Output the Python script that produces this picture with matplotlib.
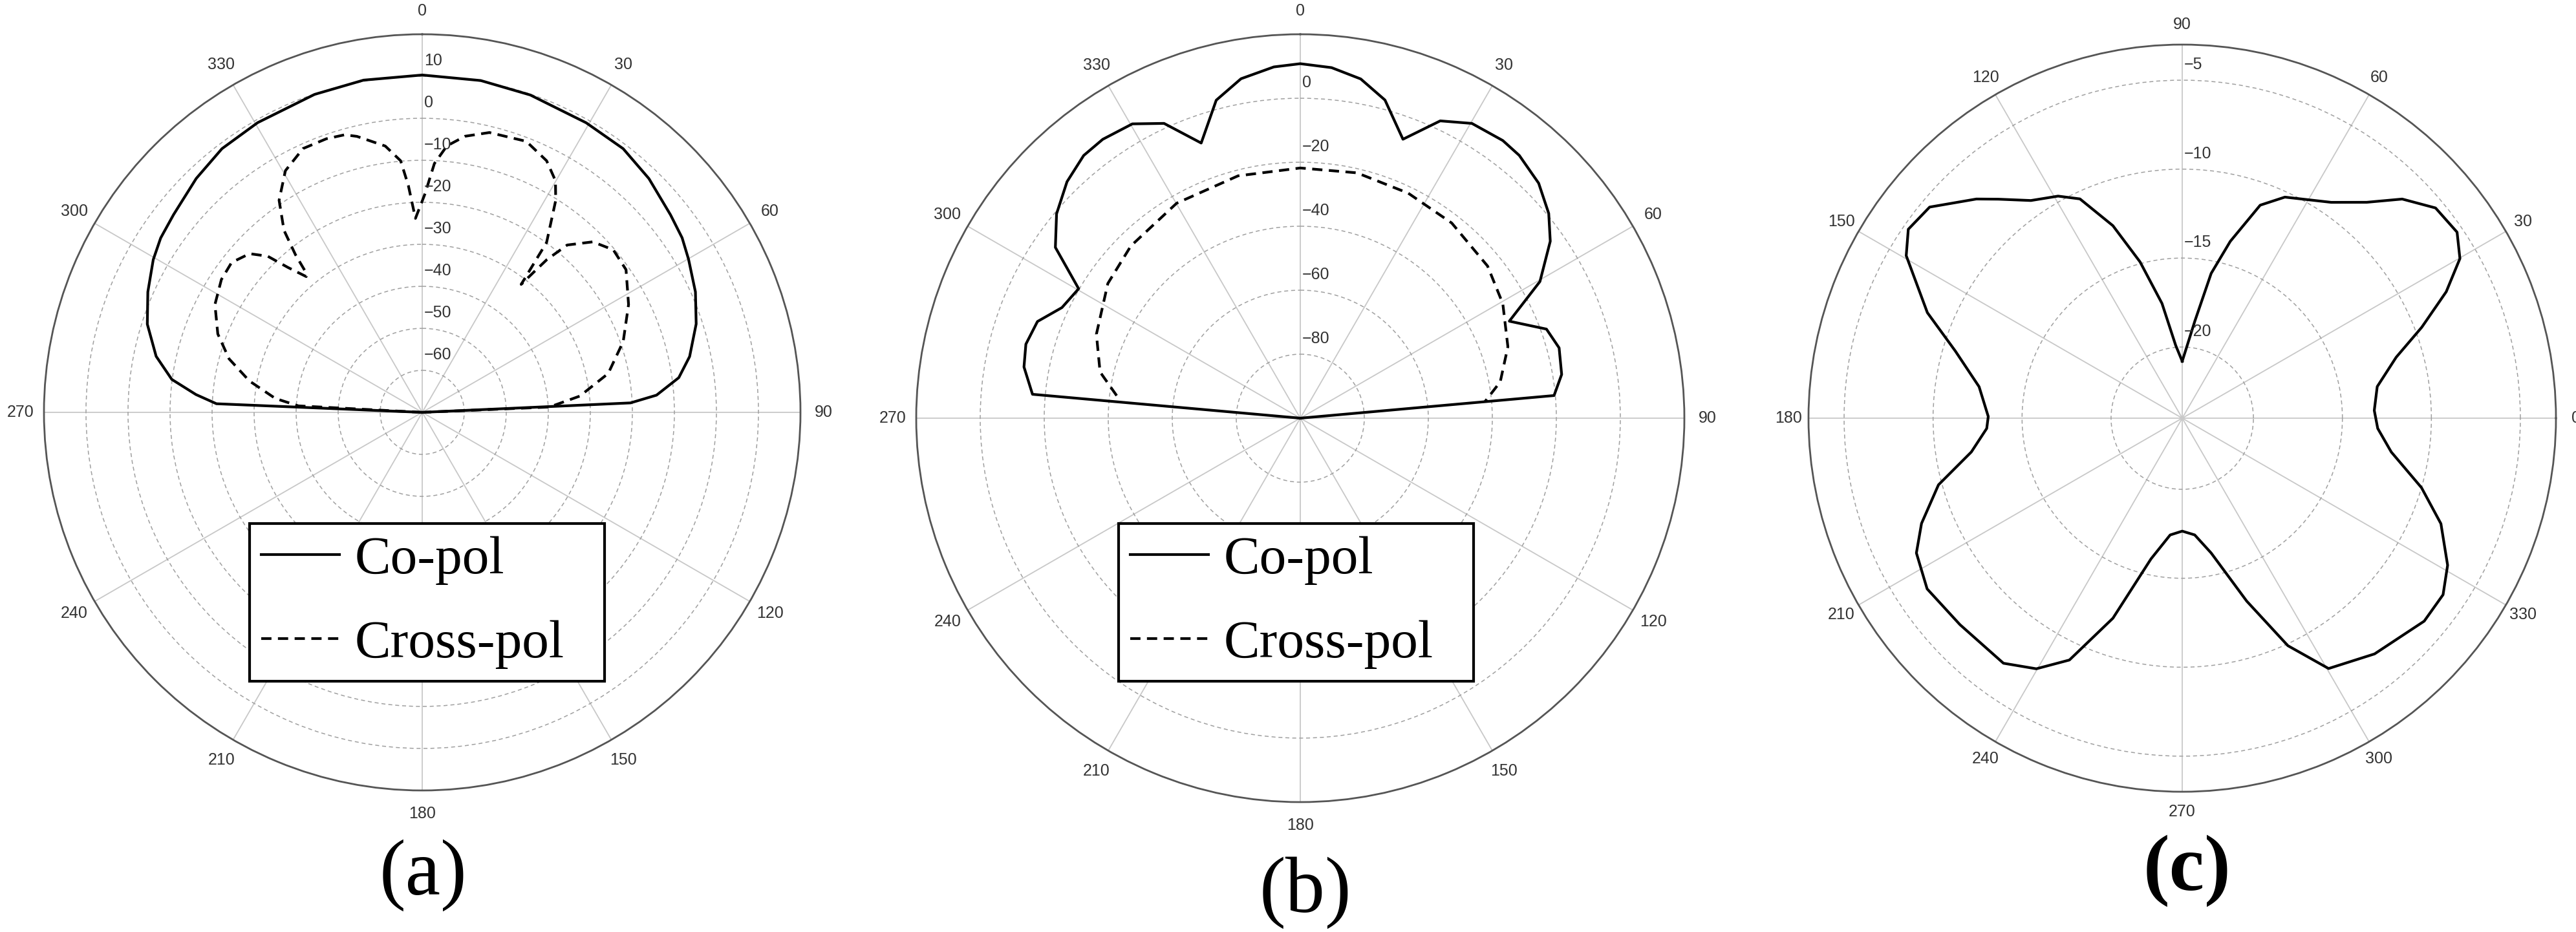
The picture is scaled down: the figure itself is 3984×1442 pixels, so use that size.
import numpy as np
import matplotlib
matplotlib.use("Agg")
import matplotlib.pyplot as plt

W, H = 3984, 1442

# ---- panel (a): co-pol / cross-pol, dB, angle clockwise from top
a_co_ang = [-90, -87.6, -85.5, -82.5, -78.1, -72.2, -66.3, -60.4, -56.3, -51.5, -44, -37.2,
            -29.6, -18.7, -10, 0, 10, 18.8, 29.5, 37.3, 44.1, 51.5, 56.1, 60.1, 66.2, 72.1,
            78.2, 82.3, 85.8, 87.4, 90]
a_co_db = [-70, -21, -16, -9.9, -5.3, -1.3, 1.3, 3.6, 4.8, 5.6, 7.4, 8.8,
           9.3, 9.9, 10.3, 10.3, 10.2, 9.8, 9.2, 8.9, 7.5, 5.5, 4.5, 3.1, 1.05, -1.5,
           -5.0, -8.4, -14.1, -20.4, -70]

a_x_ang = [-90, -87, -84.6, -79.7, -74.5, -69, -62.5, -56.5, -51.8, -47.4, -44.7, -42.8, -40.5,
           -39.7, -38.8, -37.2, -34, -29.5, -24.3, -19.3, -15.6, -13.3, -7.9, -4.9, -3.5, -2,
           0.8, 1.7, 2.8, 5.3, 8.8, 13.5, 21, 26.3, 29.9, 32.2, 36.2, 37.7,
           38.5, 39.2, 40.9, 45, 49.6, 55, 62.4, 70.6, 78.2, 84.1, 87.6, 90]
a_x_db = [-70, -40.5, -34.9, -28.2, -22.3, -17.9, -14.4, -12.7, -12.3, -14.2, -17.7, -23, -27.5,
          -26.6, -21.9, -15.6, -9.1, -3.9, -1.1, -1.0, -1.4, -2.5, -6.0, -9.9, -15.9, -23.8,
          -17.8, -14.8, -10.7, -6.3, -3.5, -1.5, -0.9, -3.2, -6.4, -10.4, -19.9, -31.5,
          -27.3, -23.1, -17.3, -12.6, -10.3, -10.8, -14.6, -19.3, -24.8, -32.3, -39.7, -70]

# ---- panel (b)
b_co_ang = [-90, -84.9, -79.5, -74.9, -69.8, -65.1, -59.7, -55.1, -50, -44.6, -39.5, -35.3,
            -29.7, -24.8, -19.8, -14.8, -9.9, -4.3, 0, 5.1, 10.1, 14.9, 20.2, 25.2, 30.2,
            36.1, 39.8, 45.4, 50.5, 54.7, 60.3, 65.1, 70.1, 74.8, 80.5, 84.9, 90]
b_co_db = [-100, -16, -12.2, -11.2, -12.5, -17.9, -19.8, -6.7, -0.6, 3.8, 6.4, 6.8,
           5.9, 1.5, -8.6, 2.8, 7.7, 10.1, 10.8, 10.0, 7.7, 2.9, -7.1, 2.7, 6.6,
           7.4, 6.9, 4.6, 0.6, -4.3, -13.8, -28, -18.2, -16.2, -17.2, -20.4, -100]

b_x_ang = [-83, -77, -67.6, -55, -44.5, -29.9, -14.4, 0, 13, 25.6, 37.8, 50.9, 60.5, 71, 79.7, 84.9]
b_x_db = [-42.2, -35.8, -31.1, -26.6, -24.5, -22.5, -21.8, -21.8, -21.3, -22, -22.8, -24.6,
          -27.3, -31.4, -36.5, -42.1]

# ---- panel (c), angle counter-clockwise from the right
c_ang = [90, 82.6, 78.7, 74.8, 69.9, 65.1, 55.4, 49.5, 44.9, 39.7, 34.1, 29.9, 25.6, 20.8, 15.9,
         9.2, 2.3, -3, -9.2, -16.2, -22.2, -29, -34.1, -40, -50.8, -59.7, -65.1, -70.6, -77.9,
         -83.9, -90, -95.9, -102.5, -109.1, -115, -120.2, -126.1, -137.1, -146.2, -153.1,
         -158, -164.7, -170.9, -177, -180.5, -188.8, -196.5, -202.5, -210.5, -214.6, -219.9,
         -226.8, -230, -235.2, -240.8, -245, -250.2, -254.9, -260, -264.9, -270]
c_db = [-20.8, -18.5, -15.7, -13.7, -11.25, -10.3, -9.26, -8.04, -6.55, -5.5, -5.35, -6.0, -7.55,
        -9.6, -11.5, -12.9, -13.2, -13.0, -12.1, -10.0, -8.3, -6.95, -6.3, -6.25, -6.9, -7.7,
        -9.9, -13.1, -16.25, -17.4, -17.65, -17.4, -15.9, -12.1, -9.0, -7.7, -6.95, -6.95,
        -6.75, -7.25, -8.2, -9.8, -12.0, -13.0, -13.1, -12.45, -10.7, -8.5, -6.0, -5.3, -5.5,
        -7.1, -7.93, -9.1, -9.7, -10.4, -12.5, -14.9, -17.45, -19.9, -20.8]

angle_labels = ['0', '30', '60', '90', '120', '150', '180', '210', '240', '270', '300', '330']

LABEL_FONT = 'Liberation Sans'
SERIF = 'Liberation Serif'
TXT = '#333333'


def make_polar(fig, cx, cy, rad):
    ax = fig.add_axes([(cx - rad) / W, (H - cy - rad) / H, 2 * rad / W, 2 * rad / H],
                      projection='polar')
    ax.spines['polar'].set_color('#555555')
    ax.spines['polar'].set_linewidth(2)
    ax.xaxis.grid(True, color='#c8c8c8', lw=1.3, ls='-')
    ax.yaxis.grid(True, color='#a0a0a0', lw=1.1, ls=(0, (4, 3)))
    ax.set_thetagrids(np.arange(0, 360, 30), angle_labels, fontfamily=LABEL_FONT)
    ax.yaxis.set_ticklabels([])
    ax.tick_params(axis='x', length=0, labelsize=18, labelcolor=TXT)
    return ax


def r_labels(ax, theta, ticks, labels):
    for t, s in zip(ticks, labels):
        ax.annotate(s, xy=(theta, t), xytext=(3, 24), textcoords='offset pixels',
                    ha='left', va='center', fontsize=18, color=TXT, family=LABEL_FONT)


def add_legend(ax, fig, x0, y0, w):
    leg = ax.legend(loc='upper left', bbox_to_anchor=(x0 / W, 1 - y0 / H, w / W, 0.0),
                    bbox_transform=fig.transFigure, mode='expand', borderaxespad=0,
                    prop={'family': SERIF, 'size': 60}, handlelength=1.45,
                    handletextpad=0.28, borderpad=0.22, labelspacing=0.65,
                    fancybox=False, framealpha=1, edgecolor='black')
    leg.get_frame().set_linewidth(3)
    return leg


fig = plt.figure(figsize=(W / 100, H / 100), dpi=100)

# (a)
ax1 = make_polar(fig, 653, 638, 585)
ax1.set_theta_zero_location('N')
ax1.set_theta_direction(-1)
ax1.set_ylim(-70, 20)
ax1.set_yticks(np.arange(-60, 20, 10))
ax1.plot(np.deg2rad(a_co_ang), a_co_db, color='black', lw=3, label='Co-pol')
ax1.plot(np.deg2rad(a_x_ang), a_x_db, color='black', lw=3, ls=(0, (3.8, 2.4)), label='Cross-pol')
ax1.tick_params(axis='x', pad=19)
r_labels(ax1, 0, np.arange(10, -70, -10), ['10', '0', '\u221210', '\u221220', '\u221230',
                                            '\u221240', '\u221250', '\u221260'])
add_legend(ax1, fig, 386, 810, 549)

# (b)
ax2 = make_polar(fig, 2011, 647, 594)
ax2.set_theta_zero_location('N')
ax2.set_theta_direction(-1)
ax2.set_ylim(-100, 20)
ax2.set_yticks(np.arange(-80, 20, 20))
ax2.plot(np.deg2rad(b_co_ang), b_co_db, color='black', lw=3, label='Co-pol')
ax2.plot(np.deg2rad(b_x_ang), b_x_db, color='black', lw=3, ls=(0, (3.8, 2.4)), label='Cross-pol')
ax2.tick_params(axis='x', pad=19)
r_labels(ax2, 0, [0, -20, -40, -60, -80], ['0', '\u221220', '\u221240', '\u221260', '\u221280'])
add_legend(ax2, fig, 1730, 810, 549)

# (c)
ax3 = make_polar(fig, 3375, 647, 578)
ax3.set_ylim(-24, -3)
ax3.set_yticks([-20, -15, -10, -5])
ax3.plot(np.deg2rad(c_ang), c_db, color='black', lw=3)
ax3.tick_params(axis='x', pad=15)
r_labels(ax3, np.pi / 2, [-5, -10, -15, -20], ['\u22125', '\u221210', '\u221215', '\u221220'])

fig.text(655 / W, 1 - 1354 / H, '(a)', ha='center', va='center', fontsize=88, family=SERIF)
fig.text(2019 / W, 1 - 1381 / H, '(b)', ha='center', va='center', fontsize=88, family=SERIF)
fig.text(3382 / W, 1 - 1347 / H, '(c)', ha='center', va='center', fontsize=88, family=SERIF,
         fontweight='bold')

fig.savefig('out.png', dpi=100, facecolor='white')
